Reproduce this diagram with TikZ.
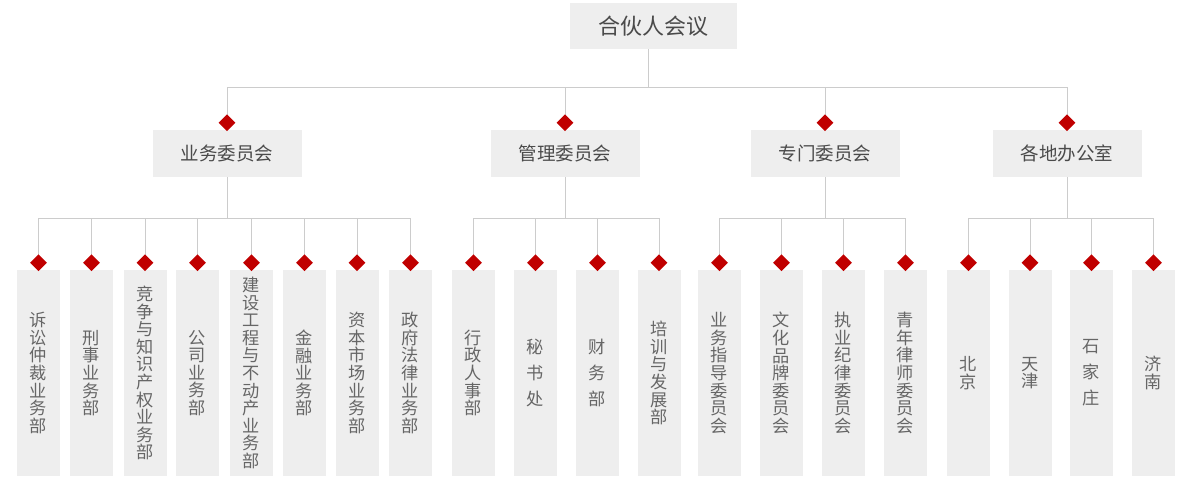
\documentclass[tikz,border=0pt]{standalone}
\usepackage{fontspec}
\setmainfont{Noto Sans CJK SC}
\usetikzlibrary{shapes.geometric,backgrounds}
\definecolor{boxgray}{HTML}{EEEEEE}
\definecolor{linegray}{HTML}{CCCCCC}
\definecolor{dred}{HTML}{C00000}
\definecolor{txt}{HTML}{4A4A4A}
\definecolor{txtl}{HTML}{666666}
\begin{document}
\begin{tikzpicture}[x=1pt,y=-1pt,
 topbox/.style={fill=boxgray,minimum width=167pt,minimum height=46pt,inner sep=0pt,text=txt,font=\fontsize{22}{22}\selectfont},
 midbox/.style={fill=boxgray,minimum width=149pt,minimum height=47pt,inner sep=0pt,text=txt,font=\fontsize{18.5}{18.5}\selectfont},
 leafbox/.style={fill=boxgray,minimum width=43pt,minimum height=206pt,inner sep=0pt,text=txtl,align=center,font=\fontsize{17.2}{17.6}\selectfont},
 wide/.style={font=\fontsize{17.2}{26}\selectfont},
 gem/.style={diamond,fill=dred,minimum width=17pt,minimum height=17pt,inner sep=0pt},
 conn/.style={draw=linegray,line width=1pt}]
\useasboundingbox (0,0) rectangle (1202,495);
% top
\node[topbox] (top) at (653,26) {合伙人会议};
% level 2
\node[midbox] (m1) at (227,153.5) {业务委员会};
\node[midbox] (m2) at (565,153.5) {管理委员会};
\node[midbox] (m3) at (825,153.5) {专门委员会};
\node[midbox] (m4) at (1067,153.5) {各地办公室};
\foreach \i in {1,...,4}{\node[gem] (g\i) at ([yshift=7pt]m\i.north) {};}
% level 3
\node[leafbox] (l1) at (38.5,373) {诉\\讼\\仲\\裁\\业\\务\\部};
\node[leafbox] (l2) at (91.5,373) {刑\\事\\业\\务\\部};
\node[leafbox] (l3) at (145,373) {竞\\争\\与\\知\\识\\产\\权\\业\\务\\部};
\node[leafbox] (l4) at (197.5,373) {公\\司\\业\\务\\部};
\node[leafbox] (l5) at (251.5,373) {建\\设\\工\\程\\与\\不\\动\\产\\业\\务\\部};
\node[leafbox] (l6) at (304.5,373) {金\\融\\业\\务\\部};
\node[leafbox] (l7) at (357,373) {资\\本\\市\\场\\业\\务\\部};
\node[leafbox] (l8) at (410.5,373) {政\\府\\法\\律\\业\\务\\部};
\node[leafbox] (l9) at (473.5,373) {行\\政\\人\\事\\部};
\node[leafbox,wide] (l10) at (535.5,373) {秘\\书\\处};
\node[leafbox,wide] (l11) at (597.5,373) {财\\务\\部};
\node[leafbox] (l12) at (659,373) {培\\训\\与\\发\\展\\部};
\node[leafbox] (l13) at (719.5,373) {业\\务\\指\\导\\委\\员\\会};
\node[leafbox] (l14) at (781.5,373) {文\\化\\品\\牌\\委\\员\\会};
\node[leafbox] (l15) at (843.5,373) {执\\业\\纪\\律\\委\\员\\会};
\node[leafbox] (l16) at (905.5,373) {青\\年\\律\\师\\委\\员\\会};
\node[leafbox] (l17) at (968.5,373) {北\\京};
\node[leafbox] (l18) at (1030,373) {天\\津};
\node[leafbox,wide] (l19) at (1091.5,373) {石\\家\\庄};
\node[leafbox] (l20) at (1153.5,373) {济\\南};
\foreach \i in {1,...,20}{\node[gem] (d\i) at ([yshift=7pt]l\i.north) {};}
% buses
\coordinate (b0) at (0,87);
\coordinate (b1) at (0,218);
\begin{pgfonlayer}{background}
\draw[conn] ([xshift=-5pt]top.south) -- ([xshift=-5pt]top.south |- b0);
\draw[conn] (g1 |- b0) -- (g4 |- b0);
\foreach \i in {1,...,4}{\draw[conn] (g\i |- b0) -- (g\i.center); \draw[conn] (m\i.south) -- (m\i.south |- b1);}
\draw[conn] (d1 |- b1) -- (d8 |- b1);
\draw[conn] (d9 |- b1) -- (d12 |- b1);
\draw[conn] (d13 |- b1) -- (d16 |- b1);
\draw[conn] (d17 |- b1) -- (d20 |- b1);
\foreach \i in {1,...,20}{\draw[conn] (d\i |- b1) -- (d\i.center);}
\end{pgfonlayer}
\end{tikzpicture}
\end{document}
